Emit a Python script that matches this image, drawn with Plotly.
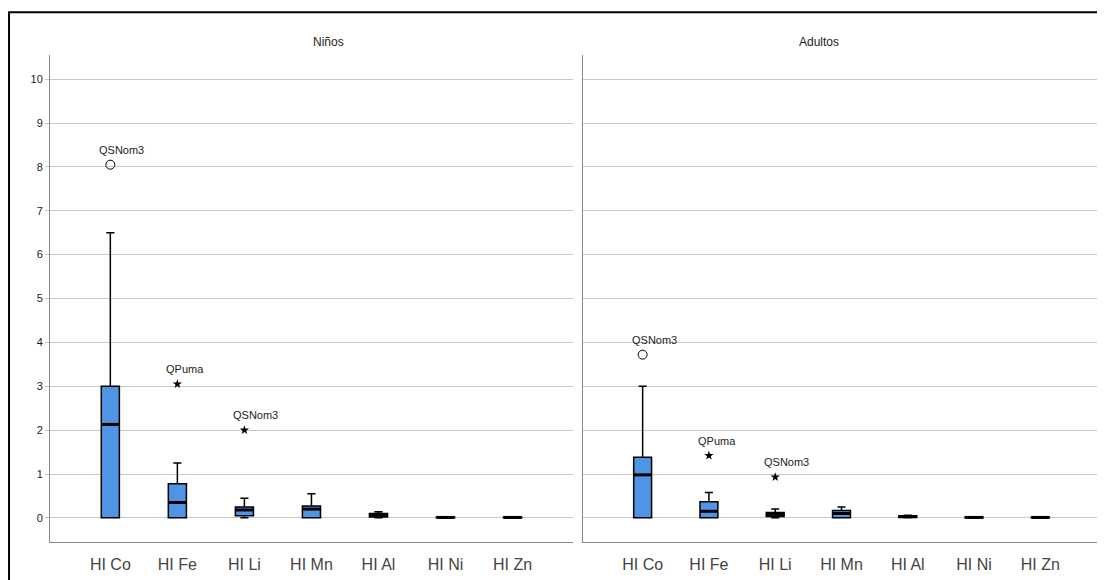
import plotly.graph_objects as go

categories = ["HI Co", "HI Fe", "HI Li", "HI Mn", "HI Al", "HI Ni", "HI Zn"]

# Niños
ninos_low = [0.0, 0.0, 0.0, 0.0, 0.0, 0.0, 0.0]
ninos_q1 = [0.0, 0.0, 0.05, 0.0, 0.02, 0.0, 0.0]
ninos_med = [2.13, 0.35, 0.18, 0.2, 0.06, 0.01, 0.01]
ninos_q3 = [3.0, 0.78, 0.25, 0.27, 0.1, 0.02, 0.02]
ninos_up = [6.5, 1.25, 0.45, 0.55, 0.14, 0.02, 0.02]

# Adultos
adult_low = [0.0, 0.0, 0.0, 0.0, 0.0, 0.0, 0.0]
adult_q1 = [0.0, 0.0, 0.03, 0.0, 0.01, 0.0, 0.0]
adult_med = [0.98, 0.15, 0.08, 0.1, 0.03, 0.01, 0.01]
adult_q3 = [1.38, 0.37, 0.12, 0.17, 0.05, 0.02, 0.02]
adult_up = [3.0, 0.58, 0.2, 0.25, 0.06, 0.02, 0.02]

# Outliers: (category index, value, symbol type, label)
ninos_out_idx = [0, 1, 2]
ninos_out_val = [8.05, 3.05, 2.0]
ninos_out_kind = ["circle", "star", "star"]
ninos_out_lab = ["QSNom3", "QPuma", "QSNom3"]

adult_out_idx = [0, 1, 2]
adult_out_val = [3.72, 1.42, 0.93]
adult_out_kind = ["circle", "star", "star"]
adult_out_lab = ["QSNom3", "QPuma", "QSNom3"]

BOX_W = 0.27
FILL = "#5095E5"
FONT = "Arial"

fig = go.Figure()

panels = [
    ("x", "y", ninos_low, ninos_q1, ninos_med, ninos_q3, ninos_up,
     ninos_out_idx, ninos_out_val, ninos_out_kind, ninos_out_lab),
    ("x2", "y2", adult_low, adult_q1, adult_med, adult_q3, adult_up,
     adult_out_idx, adult_out_val, adult_out_kind, adult_out_lab),
]

annotations = []
for xa, ya, low, q1, med, q3, up, oi, ov, ok, ol in panels:
    pos = list(range(len(categories)))
    fig.add_trace(go.Box(
        x=pos, q1=q1, median=med, q3=q3, lowerfence=low, upperfence=up,
        width=BOX_W, whiskerwidth=0.45, fillcolor=FILL,
        line=dict(color="black", width=1.5), boxpoints=False,
        showlegend=False, xaxis=xa, yaxis=ya, hoverinfo="skip",
    ))
    mx, my = [], []
    for p, m in zip(pos, med):
        mx += [p - BOX_W / 2, p + BOX_W / 2, None]
        my += [m, m, None]
    fig.add_trace(go.Scatter(
        x=mx, y=my, mode="lines", line=dict(color="black", width=3),
        showlegend=False, xaxis=xa, yaxis=ya, hoverinfo="skip",
    ))
    for kind in ["circle", "star"]:
        xs = [i for i, k in zip(oi, ok) if k == kind]
        vs = [v for v, k in zip(ov, ok) if k == kind]
        if kind == "circle":
            mk = dict(symbol="circle-open", size=9, color="black", line=dict(width=1))
        else:
            mk = dict(symbol="star", size=7, color="black", line=dict(width=0))
        fig.add_trace(go.Scatter(
            x=xs, y=vs, mode="markers", marker=mk, showlegend=False,
            xaxis=xa, yaxis=ya, hoverinfo="skip",
        ))
    for i, v, lab in zip(oi, ov, ol):
        annotations.append(dict(
            x=i, y=v, xref=xa, yref=ya, text=lab, showarrow=False,
            xanchor="left", yanchor="middle", xshift=-13, yshift=15,
            font=dict(family=FONT, size=11, color="#222"),
        ))

annotations.append(dict(x=0.249, y=1.0, xref="paper", yref="paper", text="Niños",
                        showarrow=False, yanchor="bottom", yshift=4,
                        font=dict(family=FONT, size=12, color="#222")))
annotations.append(dict(x=0.753, y=1.0, xref="paper", yref="paper", text="Adultos",
                        showarrow=False, yanchor="bottom", yshift=4,
                        font=dict(family=FONT, size=12, color="#222")))

yaxis_common = dict(
    range=[-0.55, 10.55], tickvals=list(range(0, 11)), showgrid=True,
    gridcolor="#C8C8C8", gridwidth=1, zeroline=False, showline=True,
    linecolor="#888", linewidth=1,
)
xaxis_common = dict(
    range=[-0.9, 6.9], tickvals=list(range(len(categories))), ticktext=categories,
    showgrid=False, zeroline=False, showline=True, linecolor="#888", linewidth=1,
    ticks="", ticklabelstandoff=8, tickfont=dict(family=FONT, size=16, color="#444"),
)

fig.update_layout(
    width=1097, height=572,
    margin=dict(l=42, r=5, t=47, b=38),
    paper_bgcolor="white", plot_bgcolor="white",
    xaxis=dict(domain=[0, 0.498], anchor="y", **xaxis_common),
    xaxis2=dict(domain=[0.5076, 1.0], anchor="y2", **xaxis_common),
    yaxis=dict(anchor="x", ticks="outside", ticklen=4, tickcolor="#C8C8C8",
               tickfont=dict(family=FONT, size=11, color="#222"), **yaxis_common),
    yaxis2=dict(anchor="x2", showticklabels=False, ticks="", **yaxis_common),
    annotations=annotations,
    shapes=[dict(type="rect", xref="paper", yref="paper",
                 x0=-0.039, x1=1.2, y0=-0.3, y1=1.088,
                 line=dict(color="black", width=2), layer="above")],
)

fig.write_html("out.html")
